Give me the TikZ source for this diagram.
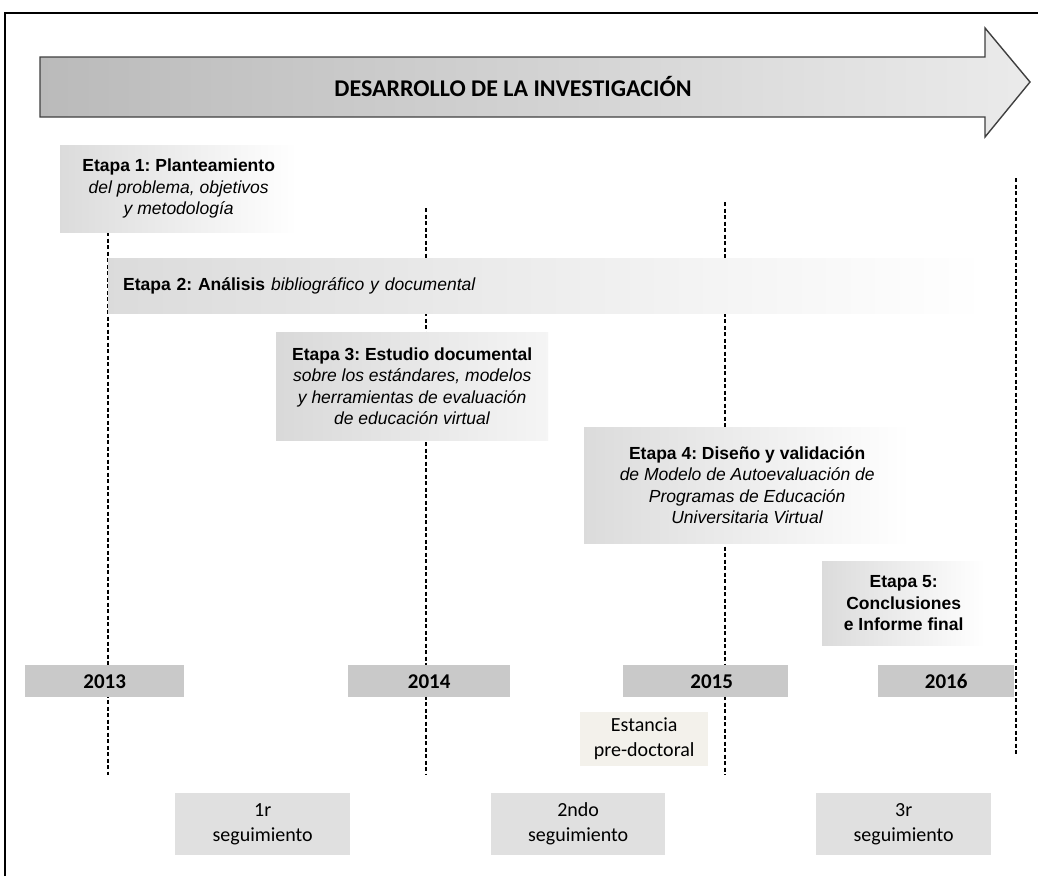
\documentclass[tikz,border=0pt]{standalone}
\usepackage{fontspec}
\setmainfont{Liberation Sans}
\newfontfamily\calib{Carlito}
\frenchspacing
\begin{document}
\begin{tikzpicture}[x=1pt,y=-1pt,
  stage/.style={anchor=north west, inner sep=0pt, left color=black!14, right color=white,
    align=center, font=\fontsize{17.5}{21.5}\selectfont},
  yearbox/.style={anchor=north west, inner sep=0pt, fill=black!21, minimum height=32pt,
    font=\calib\bfseries\fontsize{21}{24}\selectfont},
  followbox/.style={anchor=north west, inner sep=0pt, fill=black!12, minimum height=62pt,
    align=center, font=\calib\fontsize{20}{25}\selectfont},
  gridline/.style={black, line width=1.1pt, dash pattern=on 4pt off 2.5pt}
]
\useasboundingbox (0,0) rectangle (1038,876);
\fill[white] (0,0) rectangle (1038,876);

% outer frame
\draw[line width=1.2pt] (5,876) -- (5,13) -- (1038,13);

% main arrow
\shade[left color=black!27, right color=black!8, draw=black!75, line width=1.4pt, line join=miter]
  (40,57) -- (985,57) -- (985,28) -- (1030,82) -- (985,137) -- (985,117) -- (40,117) -- cycle;
\node[font=\calib\bfseries\fontsize{24}{28}\selectfont] (title) at (513,86) {DESARROLLO DE LA INVESTIGACIÓN};

% timeline grid coordinates
\coordinate (g1a) at (108,232); \coordinate (g1b) at (108,775);
\coordinate (g2a) at (426,208); \coordinate (g2b) at (426,775);
\coordinate (g3a) at (725,202); \coordinate (g3b) at (725,775);
\coordinate (g4a) at (1016,178); \coordinate (g4b) at (1016,755);
\draw[gridline] (g1a) -- (g1b);
\draw[gridline] (g2a) -- (g2b);
\draw[gridline] (g3a) -- (g3b);
\draw[gridline] (g4a) -- (g4b);

% stages
\node[stage, minimum width=237pt, minimum height=87pt] (e1) at (60,145)
  {\textbf{Etapa 1: Planteamiento}\\ \textit{del problema, objetivos}\\ \textit{y metodología}};
\node[stage, minimum width=877pt, minimum height=55pt, text width=847pt, align=left,
  inner xsep=15pt] (e2) at (108,258)
  {\textbf{Etapa 2: Análisis} \textit{bibliográfico y documental}};
\node[stage, left color=black!15, right color=black!4, minimum width=272pt, minimum height=108pt] (e3) at (276,332)
  {\textbf{Etapa 3: Estudio documental}\\ \textit{sobre los estándares, modelos}\\
   \textit{y herramientas de evaluación}\\ \textit{de educación virtual}};
\node[stage, minimum width=326pt, minimum height=116pt] (e4) at (584,427)
  {\textbf{Etapa 4: Diseño y validación}\\ \textit{de Modelo de Autoevaluación de}\\
   \textit{Programas de Educación}\\ \textit{Universitaria Virtual}};
\node[stage, minimum width=163pt, minimum height=84pt, font=\bfseries\fontsize{17.5}{21.5}\selectfont] (e5) at (822,561)
  {Etapa 5:\\ Conclusiones\\ e Informe final};

% years
\node[yearbox, minimum width=159pt] (y2013) at (25,665) {2013};
\node[yearbox, minimum width=162pt] (y2014) at (348,665) {2014};
\node[yearbox, minimum width=165pt] (y2015) at (623,665) {\hspace*{12pt}2015};
\node[yearbox, minimum width=136pt] (y2016) at (878,665) {2016};

% research stay
\node[followbox, fill={rgb,255:red,243;green,241;blue,235}, minimum width=128pt, minimum height=54pt] (stay) at (580,712)
  {Estancia\\ pre-doctoral};

% follow-ups
\node[followbox, minimum width=175pt] (s1) at (175,793) {1r\\ seguimiento};
\node[followbox, minimum width=174pt] (s2) at (491,793) {2ndo\\ seguimiento};
\node[followbox, minimum width=175pt] (s3) at (816,793) {3r\\ seguimiento};
\end{tikzpicture}
\end{document}
